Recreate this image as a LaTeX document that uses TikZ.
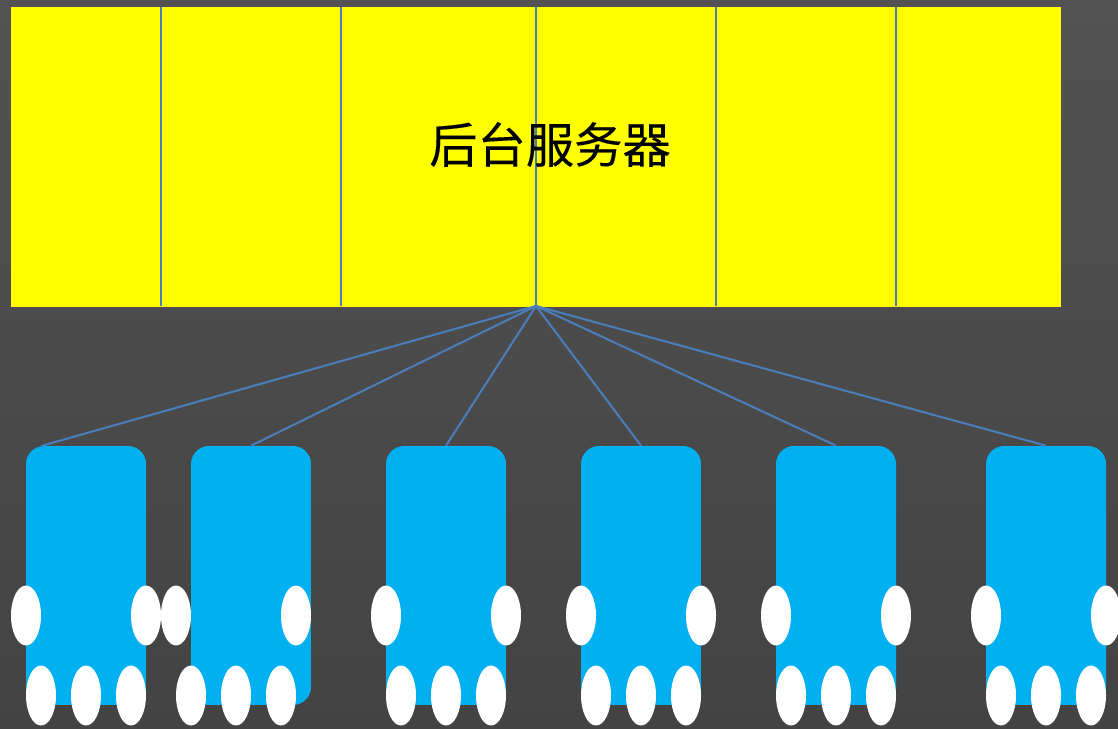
\documentclass[tikz,border=0pt]{standalone}
\usepackage{fontspec}
\newfontfamily\cjk[FakeBold=0.2]{Noto Sans CJK SC}
\usetikzlibrary{shapes.geometric}
\definecolor{bgtop}{HTML}{525252}
\definecolor{bgbottom}{HTML}{434343}
\definecolor{linkblue}{HTML}{4A7EBB}
\definecolor{clientblue}{HTML}{00B0F0}
\definecolor{serveryellow}{RGB}{255,255,0}
\tikzset{
  server/.style={rectangle, fill=serveryellow, minimum width=21cm, minimum height=6cm, inner sep=0pt},
  client/.style={rectangle, fill=clientblue, rounded corners=0.36cm, minimum width=2.4cm, minimum height=5.18cm, inner sep=0pt},
  paw/.style={ellipse, fill=white, minimum width=0.6cm, minimum height=1.2cm, inner sep=0pt},
  link/.style={color=linkblue, line width=1.15pt}
}
\begin{document}
\begin{tikzpicture}[x=0.02cm, y=-0.02cm]
    \useasboundingbox (0,0) rectangle (1118,729);
    \shade[top color=bgtop, bottom color=bgbottom] (0,0) rectangle (1118,729);
    \node[server] (server) at (536,157) {};
    % dividers
    \foreach \x/\name in {161/a,341/b,536/c,716/d,896/e} {
        \coordinate (top\name) at (\x,7);
        \coordinate (bot\name) at (\x,306);
        \draw[link] (top\name) -- (bot\name);
    }
    \node[font=\cjk\fontsize{27.5pt}{30pt}\selectfont, inner sep=0pt] (title) at (550,144.5) {后台服务器};
    % clients
    \foreach \n/\x/\side/\foot in {1/86/0/0,2/251/-15/-15,3/446/0/0,4/641/0/0,5/836/0/0,6/1046/0/0} {
        \node[client] (client\n) at (\x,575.5) {};
        \node[paw] (left\n) at (\x-60+\side,615.5) {};
        \node[paw] (right\n) at (\x+60+\side,615.5) {};
        \node[paw] (foota\n) at (\x-45+\foot,695.5) {};
        \node[paw] (footb\n) at (\x+\foot,695.5) {};
        \node[paw] (footc\n) at (\x+45+\foot,695.5) {};
    }
    \coordinate (hub) at (536,306);
    \coordinate (end1) at (41,446);
    \draw[link] (hub) -- (end1);
    \foreach \n in {2,...,6}
    \draw[link] (hub) -- (client\n.north);
\end{tikzpicture}
\end{document}
